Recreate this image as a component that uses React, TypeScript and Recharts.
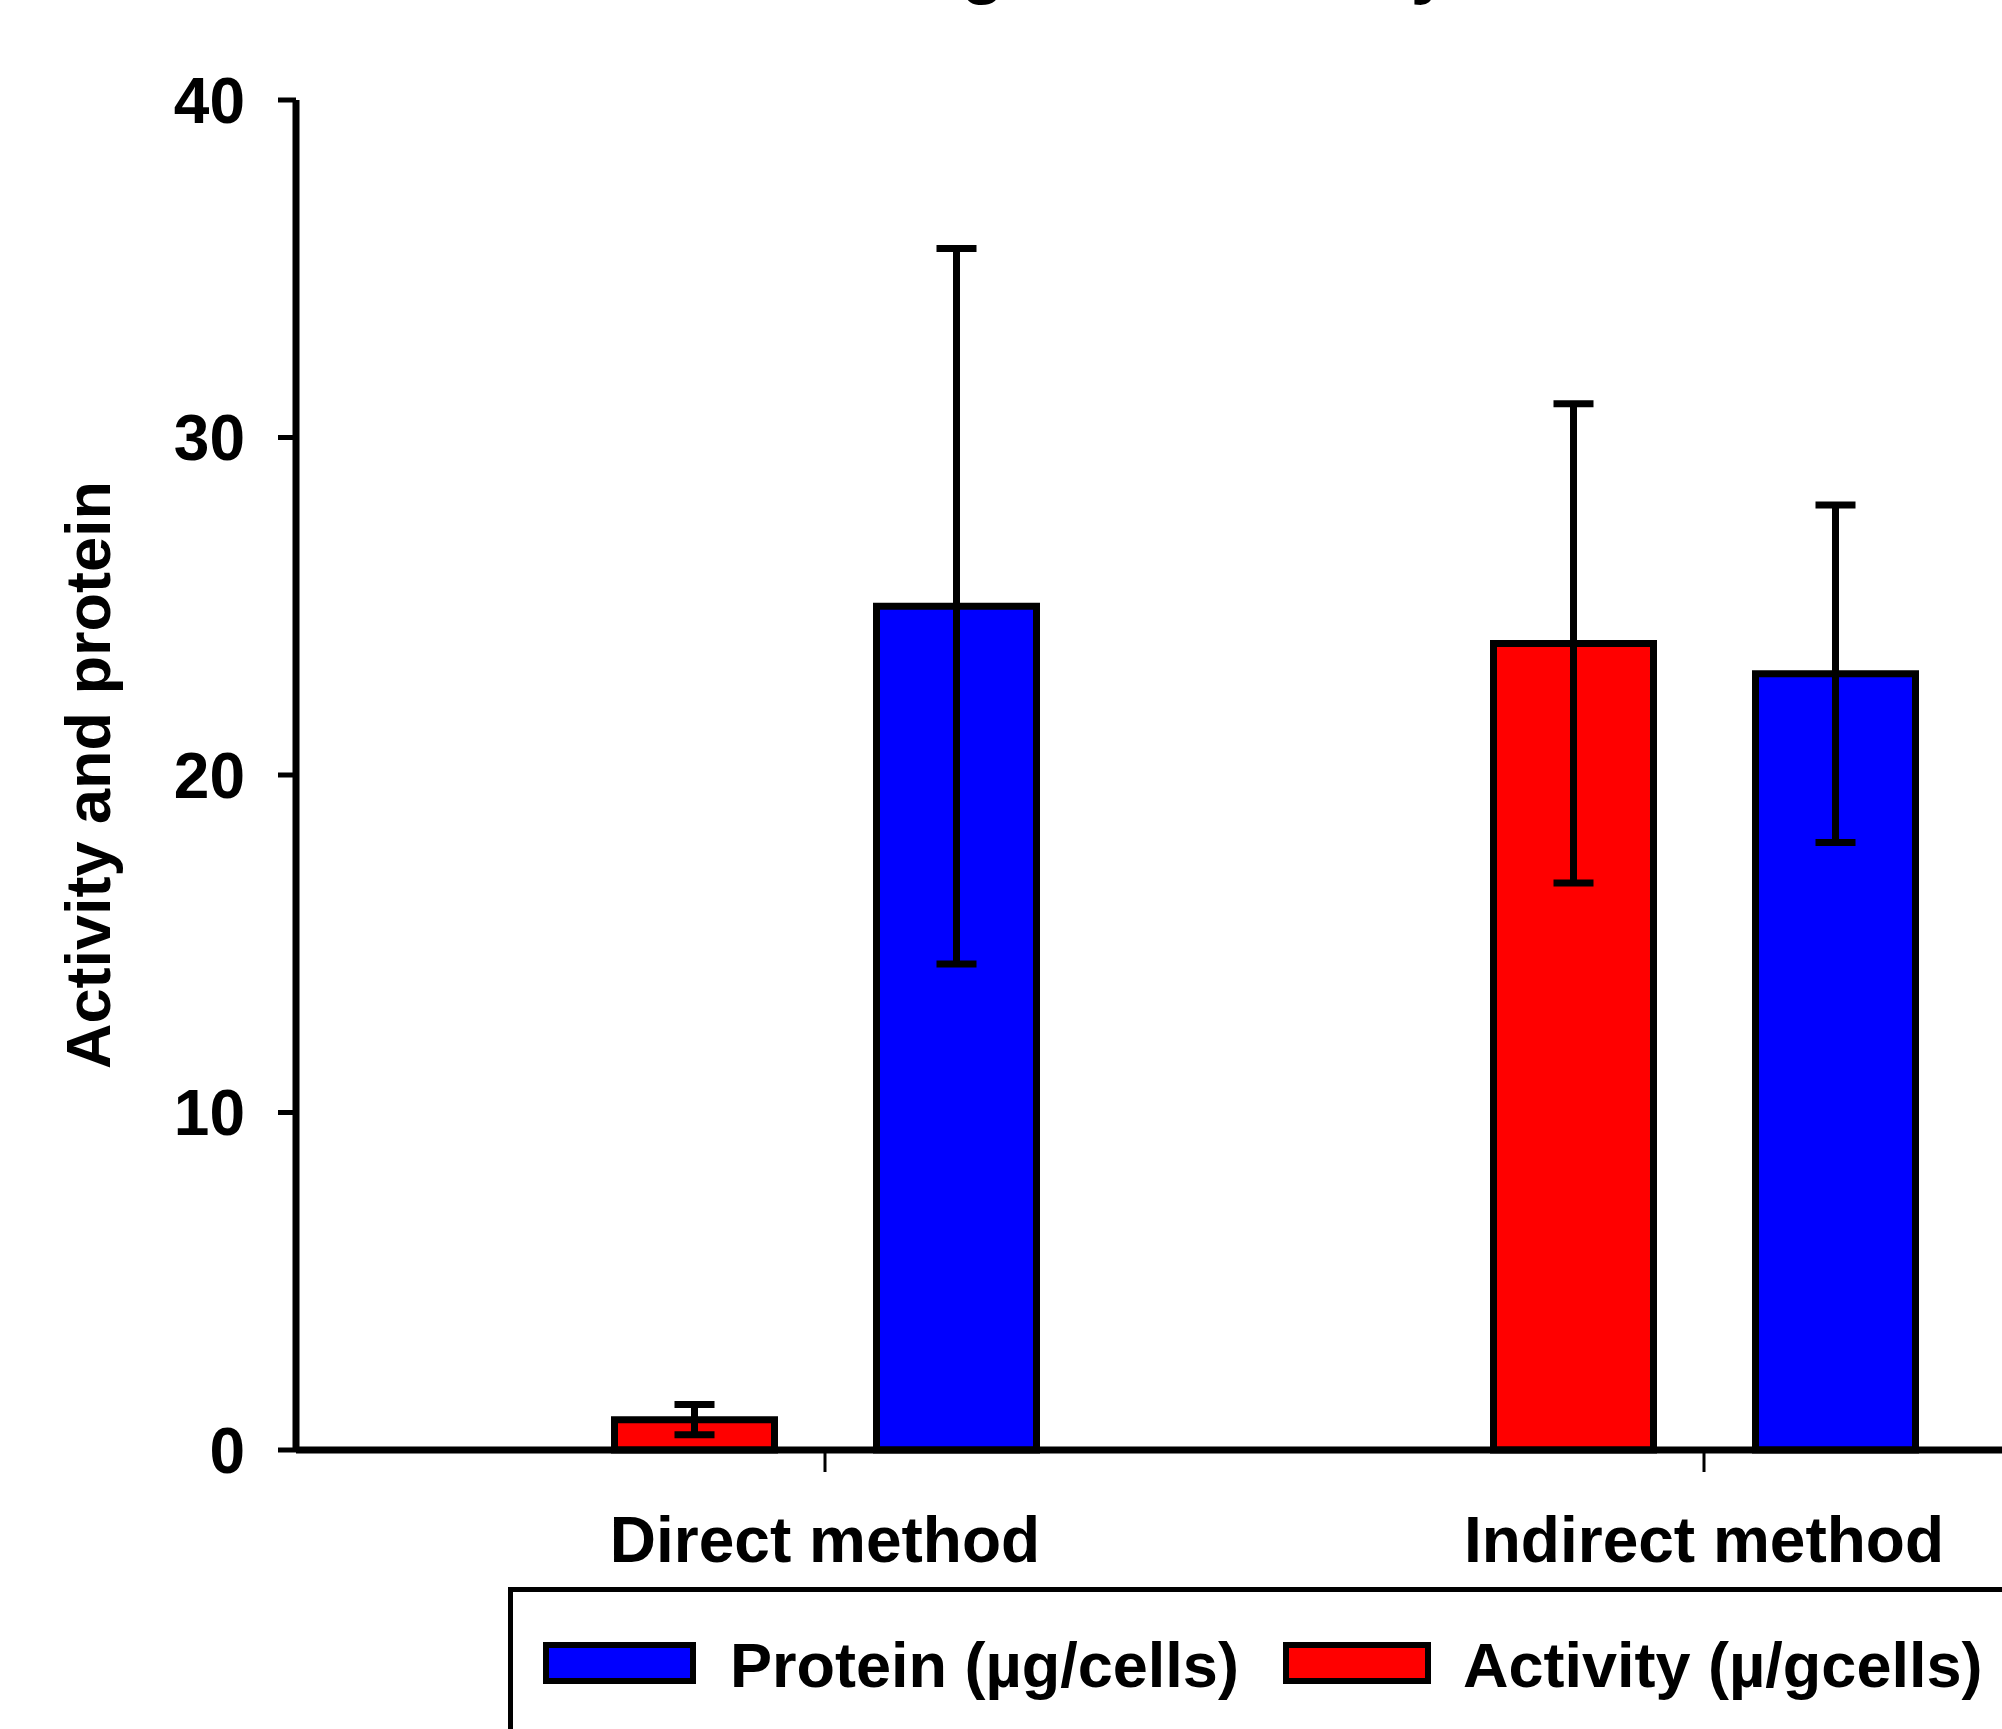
import { BarChart, Bar, XAxis, YAxis, ErrorBar } from 'recharts';

// values
const categories = ['Direct method', 'Indirect method'];
const activity = [0.9, 23.9];
const activityErr = [0.45, 7.1];
const protein = [25.0, 23.0];
const proteinErr = [10.6, 5.0];
const yTicks = [0, 10, 20, 30, 40];

const seriesNames = { protein: 'Protein (\u00b5g/cells)', activity: 'Activity (\u00b5/gcells)' };
const RED = '#FF0000';
const BLUE = '#0000FF';
const FONT = '"Liberation Sans", Arial, sans-serif';

const data = categories.map((name, i) => ({
  name,
  activity: activity[i],
  activityErr: activityErr[i],
  protein: protein[i],
  proteinErr: proteinErr[i],
}));

const YLabel = (props: any) => {
  const vb = props.viewBox || { x: 0, y: 100, width: 296, height: 1350 };
  const x = vb.x + 110;
  const y = vb.y + vb.height / 2;
  return (
    <text x={x} y={y} transform={`rotate(-90, ${x}, ${y})`} textAnchor="middle"
      fontFamily={FONT} fontWeight="bold" fontSize={63} fill="#000">
      Activity and protein
    </text>
  );
};

export default function App() {
  const tickStyle = { fontSize: 64, fontWeight: 'bold', fill: '#000', fontFamily: FONT };
  return (
    <div style={{ position: 'absolute', left: 0, top: 0, width: 2002, height: 1729, overflow: 'hidden', background: '#fff' }}>
      <BarChart width={2233} height={1729} data={data}
        margin={{ top: 100, right: 0, left: 0, bottom: 129 }}
        barSize={160} barGap={102}>
        <XAxis dataKey="name" height={150} padding={{ left: 89.5, right: 89.5 }}
          axisLine={{ stroke: '#000', strokeWidth: 7 }}
          tickLine={{ stroke: '#000', strokeWidth: 3 }}
          tickSize={22} tickMargin={45} tick={tickStyle} interval={0} />
        <YAxis width={296} domain={[0, 40]} ticks={yTicks} interval={0}
          axisLine={{ stroke: '#000', strokeWidth: 7 }}
          tickLine={{ stroke: '#000', strokeWidth: 5 }}
          tickSize={18} tickMargin={33} tick={tickStyle}
          label={<YLabel />} />
        <Bar dataKey="activity" name={seriesNames.activity} fill={RED} stroke="#000" strokeWidth={7} isAnimationActive={false}>
          <ErrorBar dataKey="activityErr" width={20} stroke="#000" strokeWidth={7} isAnimationActive={false} />
        </Bar>
        <Bar dataKey="protein" name={seriesNames.protein} fill={BLUE} stroke="#000" strokeWidth={7} isAnimationActive={false}>
          <ErrorBar dataKey="proteinErr" width={20} stroke="#000" strokeWidth={7} isAnimationActive={false} />
        </Bar>
      </BarChart>

      {/* title (mostly cropped off at the top, only descenders show) and legend box */}
      <svg width={2002} height={1729} style={{ position: 'absolute', left: 0, top: 0, pointerEvents: 'none' }}>
        <text x={882} y={-10} fontFamily={FONT} fontWeight="bold" fontSize={71} fill="#000">
          Arginase activity
        </text>
        <rect x={510.5} y={1589.5} width={1600} height={300} fill="#fff" stroke="#000" strokeWidth={5} />
        <rect x={546} y={1645} width={147} height={36} fill={BLUE} stroke="#000" strokeWidth={6} />
        <text x={730} y={1687} fontFamily={FONT} fontWeight="bold" fontSize={63} fill="#000">
          {seriesNames.protein}
        </text>
        <rect x={1286} y={1645} width={142} height={36} fill={RED} stroke="#000" strokeWidth={6} />
        <text x={1463} y={1687} fontFamily={FONT} fontWeight="bold" fontSize={63} fill="#000">
          {seriesNames.activity}
        </text>
      </svg>
    </div>
  );
}
